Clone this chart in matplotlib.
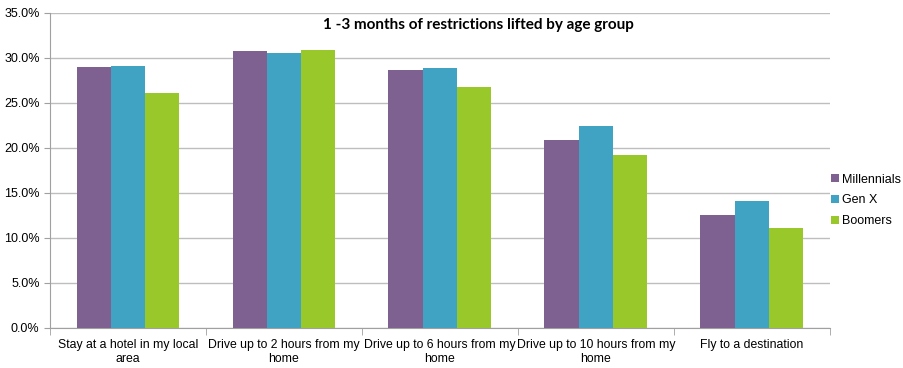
import matplotlib.pyplot as plt
import numpy as np
from matplotlib.ticker import FuncFormatter

# data
categories = ['Stay at a hotel in my local\narea', 'Drive up to 2 hours from my\nhome',
              'Drive up to 6 hours from my\nhome', 'Drive up to 10 hours from my\nhome',
              'Fly to a destination']
millennials = [29.0, 30.8, 28.7, 20.9, 12.6]
gen_x = [29.1, 30.6, 28.9, 22.4, 14.1]
boomers = [26.1, 30.9, 26.8, 19.2, 11.1]

series = [('Millennials', millennials, '#7E6190'),
          ('Gen X', gen_x, '#41A3C3'),
          ('Boomers', boomers, '#98C82A')]

plt.rcParams['font.family'] = ['Liberation Sans', 'DejaVu Sans']

fig = plt.figure(figsize=(9.04, 3.68), dpi=100)
ax = fig.add_axes([0.0553, 0.1087, 0.8628, 0.856])

x = np.arange(len(categories))
w = 0.22
for i, (name, vals, col) in enumerate(series):
    ax.bar(x + (i - 1) * w, vals, w, color=col, label=name, zorder=3)

ax.set_xlim(-0.5, len(categories) - 0.5)
ax.set_ylim(0, 35)
ax.set_yticks(np.arange(0, 36, 5))
ax.yaxis.set_major_formatter(FuncFormatter(lambda v, p: f'{v:.1f}%'))
ax.grid(axis='y', color='#BEBEBE', linewidth=1, zorder=0)

ax.set_xticks(x)
ax.set_xticklabels(categories, fontsize=8.8)
ax.set_xticks(np.arange(-0.5, len(categories)), minor=True)
ax.tick_params(axis='x', which='major', length=0, pad=8)
ax.tick_params(axis='x', which='minor', length=5, color='#A0A0A0')
ax.tick_params(axis='y', length=4, color='#A0A0A0', labelsize=9)

for s in ['top', 'right']:
    ax.spines[s].set_visible(False)
for s in ['left', 'bottom']:
    ax.spines[s].set_color('#A0A0A0')

ax.text(0.549, 0.985, '1 -3 months of restrictions lifted by age group', transform=ax.transAxes,
        ha='center', va='top', fontsize=11, fontweight='bold', family=['Lato', 'DejaVu Sans'])

ax.legend(loc='center left', bbox_to_anchor=(1.0, 0.405), frameon=False, fontsize=9,
          borderaxespad=0, borderpad=0.1,
          handlelength=0.6, handleheight=0.6, handletextpad=0.3, labelspacing=0.7)

fig.savefig('out.png', dpi=100)
